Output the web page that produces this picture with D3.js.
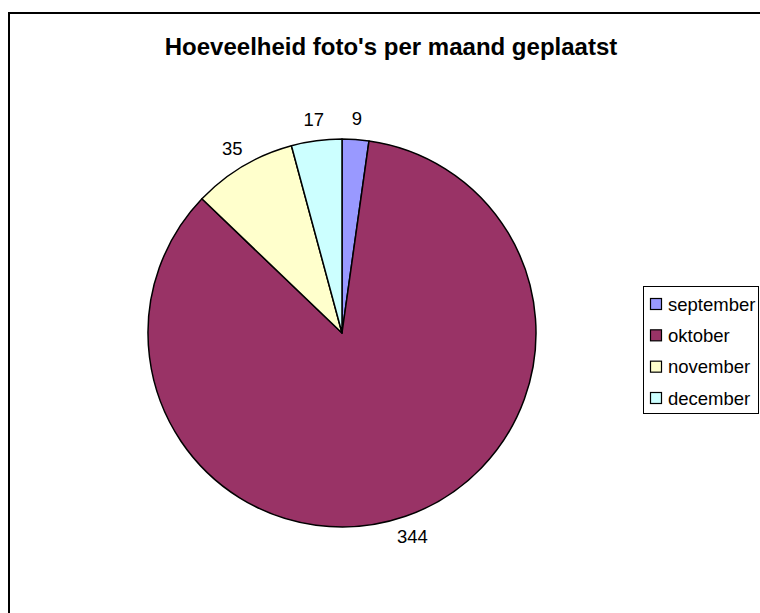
<!DOCTYPE html>
<html>
<head>
<meta charset="utf-8">
<script src="https://cdn.jsdelivr.net/npm/d3@7"></script>
<style>
  html, body { margin: 0; padding: 0; background: #fff; overflow: hidden; }
  svg { display: block; }
</style>
</head>
<body>
<svg id="chart" width="760" height="613"></svg>
<script>
// Data
const categories = ["september", "oktober", "november", "december"];
const values = [9, 344, 35, 17];
const colors = ["#9999FF", "#993366", "#FFFFCC", "#CCFFFF"];
const titleText = "Hoeveelheid foto's per maand geplaatst";

const svg = d3.select("#chart");
const W = 760, H = 613;

// outer chart border (right/bottom edges fall outside the view)
svg.append("rect")
  .attr("x", 9).attr("y", 13)
  .attr("width", 800).attr("height", 700)
  .attr("fill", "#fff").attr("stroke", "#000").attr("stroke-width", 2);

// title
svg.append("text")
  .attr("x", 391).attr("y", 55)
  .attr("text-anchor", "middle")
  .attr("font-family", "Liberation Sans, Arial, sans-serif")
  .attr("font-weight", "bold")
  .attr("font-size", 24)
  .attr("fill", "#000")
  .text(titleText);

// pie
const cx = 342, cy = 333, R = 194;
const data = categories.map((c, i) => ({ cat: c, value: values[i], color: colors[i] }));
const pie = d3.pie().sort(null).value(d => d.value).startAngle(0).endAngle(2 * Math.PI);
const arcs = pie(data);
const arc = d3.arc().innerRadius(0).outerRadius(R);
const labelArc = d3.arc().innerRadius(R + 21).outerRadius(R + 21);

const g = svg.append("g").attr("transform", `translate(${cx},${cy})`);
g.selectAll("path.slice").data(arcs).enter().append("path")
  .attr("class", "slice")
  .attr("d", arc)
  .attr("fill", d => d.data.color)
  .attr("stroke", "#000")
  .attr("stroke-width", 1.5)
  .attr("stroke-linejoin", "round");

g.selectAll("text.lbl").data(arcs).enter().append("text")
  .attr("class", "lbl")
  .attr("transform", d => `translate(${labelArc.centroid(d)})`)
  .attr("text-anchor", "middle")
  .attr("dominant-baseline", "central")
  .attr("font-family", "Liberation Sans, Arial, sans-serif")
  .attr("font-size", 18.5)
  .attr("fill", "#000")
  .text(d => d.data.value);

// legend
const lx = 643, ly = 286, lw = 115, lh = 127;
const rowY = d3.scalePoint().domain(categories).range([304, 398]);
const lg = svg.append("g");
lg.append("rect")
  .attr("x", lx + 0.5).attr("y", ly + 0.5)
  .attr("width", lw).attr("height", lh)
  .attr("fill", "#fff").attr("stroke", "#000").attr("stroke-width", 1);
const items = lg.selectAll("g.item").data(data).enter().append("g").attr("class", "item");
items.append("rect")
  .attr("x", 650.5).attr("y", d => rowY(d.cat) - 5.5)
  .attr("width", 11).attr("height", 11)
  .attr("fill", d => d.color).attr("stroke", "#000").attr("stroke-width", 1.2);
items.append("text")
  .attr("x", 668).attr("y", d => rowY(d.cat))
  .attr("dominant-baseline", "central")
  .attr("font-family", "Liberation Sans, Arial, sans-serif")
  .attr("font-size", 18.5)
  .attr("fill", "#000")
  .text(d => d.cat);
</script>
</body>
</html>
